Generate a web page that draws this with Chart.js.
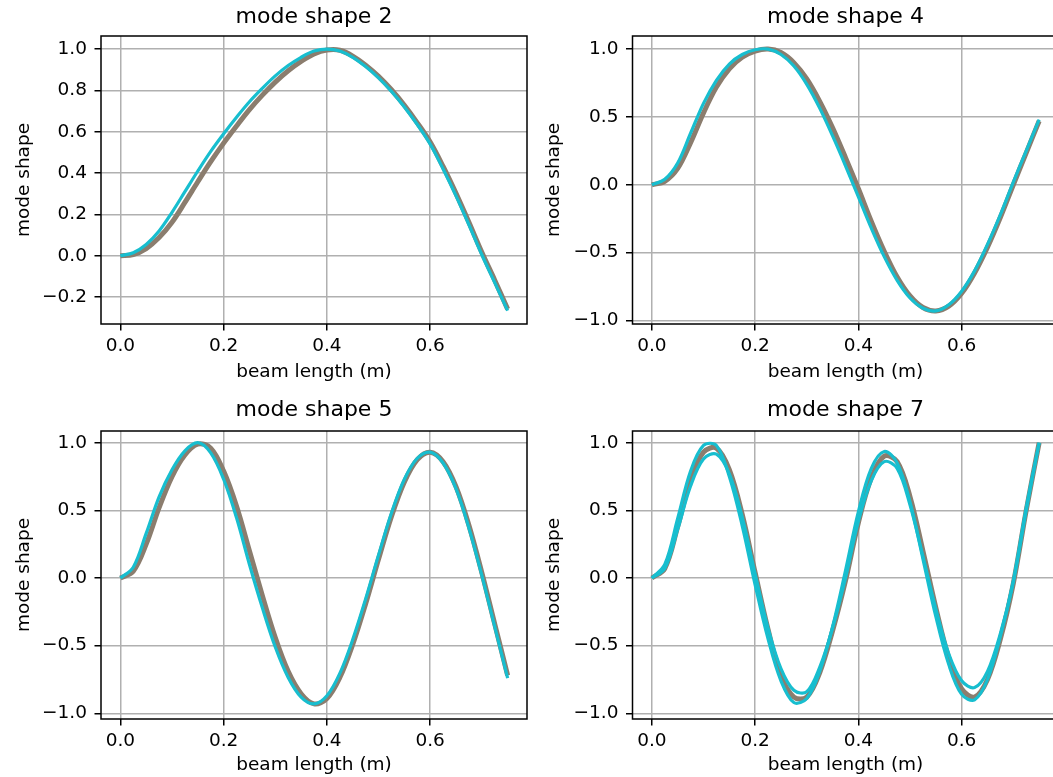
<!DOCTYPE html>
<html>
<head>
<meta charset="utf-8">
<script src="https://cdn.jsdelivr.net/npm/chart.js@4/dist/chart.umd.min.js"></script>
<style>
  html, body { margin: 0; padding: 0; background: #fff; overflow: hidden; }
  body { width: 1053px; height: 777px; position: relative; }
  canvas { position: absolute; }
</style>
</head>
<body>
<canvas id="mode2"></canvas>
<canvas id="mode4"></canvas>
<canvas id="mode5"></canvas>
<canvas id="mode7"></canvas>
<script>
// sample positions along the beam (m)
const beamX = [0, 0.025, 0.05, 0.075, 0.1, 0.125, 0.15, 0.175, 0.2, 0.225, 0.25, 0.275, 0.3, 0.325, 0.35,
  0.375, 0.4, 0.425, 0.45, 0.475, 0.5, 0.525, 0.55, 0.575, 0.6, 0.625, 0.65, 0.675, 0.7, 0.725, 0.75];

const mode2Cyan = [0, 0.015, 0.055, 0.12, 0.21, 0.31, 0.41, 0.505, 0.59, 0.67, 0.745, 0.81, 0.87, 0.92, 0.96,
  0.99, 1.0, 0.99, 0.96, 0.915, 0.86, 0.795, 0.72, 0.635, 0.54, 0.42, 0.29, 0.15, 0.005, -0.13, -0.265];
const mode2Band = [0, 0.006, 0.035, 0.088, 0.162, 0.258, 0.358, 0.455, 0.545, 0.628, 0.707, 0.777, 0.84, 0.895, 0.94,
  0.976, 0.995, 0.994, 0.966, 0.922, 0.868, 0.803, 0.728, 0.643, 0.55, 0.432, 0.302, 0.162, 0.017, -0.118, -0.258];

const mode4Cyan = [0, 0.04, 0.16, 0.38, 0.6, 0.77, 0.89, 0.96, 0.995, 1.0, 0.96, 0.875, 0.74, 0.565, 0.36,
  0.14, -0.09, -0.32, -0.53, -0.705, -0.835, -0.91, -0.93, -0.885, -0.785, -0.635, -0.44, -0.22, 0.02, 0.25, 0.48];
const mode4Band = [0, 0.025, 0.12, 0.31, 0.53, 0.72, 0.855, 0.94, 0.985, 1.0, 0.975, 0.9, 0.78, 0.615, 0.42,
  0.2, -0.03, -0.27, -0.49, -0.68, -0.82, -0.905, -0.93, -0.895, -0.8, -0.65, -0.46, -0.24, 0.0, 0.235, 0.47];

const mode5Cyan = [0, 0.08, 0.33, 0.6, 0.8, 0.94, 1.0, 0.925, 0.73, 0.445, 0.1, -0.22, -0.51, -0.735, -0.88,
  -0.93, -0.87, -0.705, -0.455, -0.155, 0.17, 0.48, 0.73, 0.885, 0.93, 0.85, 0.66, 0.37, 0.02, -0.36, -0.74];
const mode5Band = [0, 0.05, 0.25, 0.52, 0.75, 0.91, 0.99, 0.96, 0.79, 0.53, 0.2, -0.13, -0.44, -0.69, -0.855,
  -0.93, -0.89, -0.735, -0.49, -0.19, 0.14, 0.455, 0.71, 0.875, 0.93, 0.86, 0.675, 0.39, 0.04, -0.34, -0.72];

const mode7Upper = [0, 0.1, 0.44, 0.79, 0.98, 0.98, 0.75, 0.386, -0.05, -0.45, -0.76, -0.92, -0.89, -0.69, -0.36,
  0.055, 0.49, 0.81, 0.935, 0.85, 0.56, 0.14, -0.286, -0.64, -0.86, -0.9, -0.75, -0.43, -0.02, 0.52, 1.0];
const mode7Lower = [0, 0.07, 0.36, 0.68, 0.88, 0.915, 0.77, 0.45, 0.03, -0.37, -0.67, -0.83, -0.84, -0.66, -0.37,
  0.0, 0.42, 0.72, 0.86, 0.81, 0.54, 0.16, -0.23, -0.56, -0.76, -0.81, -0.69, -0.41, -0.03, 0.5, 1.0];
const mode7Band = [0, 0.07, 0.38, 0.73, 0.93, 0.96, 0.8, 0.47, 0.04, -0.38, -0.72, -0.88, -0.88, -0.7, -0.39,
  -0.02, 0.41, 0.74, 0.9, 0.86, 0.6, 0.2, -0.22, -0.59, -0.82, -0.88, -0.75, -0.45, -0.04, 0.5, 1.0];

const xTicks = [0, 0.2, 0.4, 0.6];
const mode2Ticks = [-0.2, 0, 0.2, 0.4, 0.6, 0.8, 1.0];
const modeTicks = [-1, -0.5, 0, 0.5, 1];

const CYAN = '#17becf';
const BAND = '#8b7d6e';

Chart.defaults.font.family = 'DejaVu Sans';
Chart.defaults.color = '#000';

const spines = {
  id: 'spines',
  afterDatasetsDraw(chart) {
    const { ctx, chartArea: a } = chart;
    ctx.save();
    ctx.strokeStyle = '#000';
    ctx.lineWidth = 1.5;
    ctx.strokeRect(a.left, a.top, a.right - a.left, a.bottom - a.top);
    ctx.restore();
  }
};

const fmt = v => v.toFixed(1).replace('-', '\u2212');

function toPoints(ys) {
  return ys.map((y, i) => ({ x: beamX[i], y: y }));
}

// left/top/width/height of each canvas, plus axis box sizes
const panels = [
  { id: 'mode2', title: 'mode shape 2', ticks: mode2Ticks, yRange: [-0.33, 1.063],
    lines: [[mode2Cyan, CYAN], [mode2Band, BAND]],
    box: [0, 0, 528, 384], yWidth: 101, padRight: 1, titlePad: [4.3, 5.3], xHeight: 60 },
  { id: 'mode4', title: 'mode shape 4', ticks: modeTicks, yRange: [-1.0265, 1.0965],
    lines: [[mode4Cyan, CYAN], [mode4Band, BAND]],
    box: [530, 0, 530, 384], yWidth: 102.5, padRight: 1.5, titlePad: [4.3, 5.3], xHeight: 60 },
  { id: 'mode5', title: 'mode shape 5', ticks: modeTicks, yRange: [-1.042, 1.0865],
    lines: [[mode5Cyan, CYAN], [mode5Band, BAND]],
    box: [0, 392, 528, 385], yWidth: 101, padRight: 1, titlePad: [4.8, 7.8], xHeight: 58 },
  { id: 'mode7', title: 'mode shape 7', ticks: modeTicks, yRange: [-1.042, 1.0865],
    lines: [[mode7Upper, CYAN], [mode7Lower, CYAN], [mode7Band, BAND]],
    box: [530, 392, 530, 385], yWidth: 102.5, padRight: 1.5, titlePad: [4.8, 7.8], xHeight: 58 }
];

panels.forEach(p => {
  const canvas = document.getElementById(p.id);
  const [left, top, w, h] = p.box;
  canvas.width = w;
  canvas.height = h;
  canvas.style.left = left + 'px';
  canvas.style.top = top + 'px';
  canvas.style.width = w + 'px';
  canvas.style.height = h + 'px';

  new Chart(canvas, {
    type: 'line',
    data: {
      datasets: p.lines.map(([ys, color]) => ({
        data: toPoints(ys),
        borderColor: color,
        borderWidth: color === CYAN ? 3.2 : 5,
        pointRadius: 0,
        tension: 0.35,
        fill: false
      }))
    },
    options: {
      responsive: false,
      animation: false,
      devicePixelRatio: 1,
      layout: { padding: { left: 0, right: p.padRight, top: 0, bottom: 0 } },
      plugins: {
        legend: { display: false },
        tooltip: { enabled: false },
        title: {
          display: true,
          text: p.title,
          fullSize: false,
          color: '#000',
          font: { size: 22, weight: 'normal' },
          padding: { top: p.titlePad[0], bottom: p.titlePad[1] }
        }
      },
      scales: {
        x: {
          type: 'linear',
          min: -0.0375,
          max: 0.7875,
          afterBuildTicks: s => { s.ticks = xTicks.map(v => ({ value: v })); },
          afterFit: s => { s.height = p.xHeight; },
          grid: { color: '#b0b0b0', lineWidth: 1.5, tickLength: 6.5, tickColor: '#000', tickWidth: 1.5 },
          border: { display: false },
          ticks: { callback: fmt, padding: 4.6, maxRotation: 0, font: { size: 18.5 } },
          title: { display: true, text: 'beam length (m)', font: { size: 18.5 }, padding: { top: 0, bottom: 0.9 } }
        },
        y: {
          type: 'linear',
          min: p.yRange[0],
          max: p.yRange[1],
          afterBuildTicks: s => { s.ticks = p.ticks.map(v => ({ value: v })); },
          afterFit: s => { s.width = p.yWidth; },
          grid: { color: '#b0b0b0', lineWidth: 1.5, tickLength: 6.5, tickColor: '#000', tickWidth: 1.5 },
          border: { display: false },
          ticks: { callback: fmt, padding: 7.5, font: { size: 18.5 } },
          title: { display: true, text: 'mode shape', font: { size: 18.5 }, padding: { top: 12.9, bottom: 0 } }
        }
      }
    },
    plugins: [spines]
  });
});
</script>
</body>
</html>
